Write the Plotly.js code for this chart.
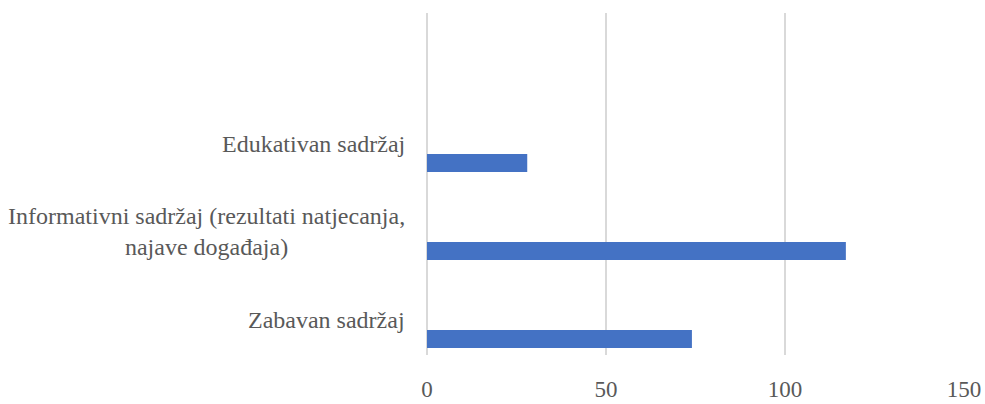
<!DOCTYPE html>
<html>
<head>
<meta charset="utf-8">
<script src="https://cdn.plot.ly/plotly-3.0.1.min.js"></script>
<style>html,body{margin:0;padding:0;background:#fff;}#chart{width:985px;height:404px;}</style>
</head>
<body>
<div id="chart"></div>
<script>
// Categories listed bottom to top
const categories = [
  "Zabavan sadržaj",
  "Informativni sadržaj (rezultati natjecanja,<br>najave događaja)",
  "Edukativan sadržaj"
];
const values = [74, 117, 28];
const xTicks = [0, 50, 100, 150];

const FONT = 'Times New Roman';

const trace = {
  type: 'bar',
  orientation: 'h',
  x: values,
  y: categories,
  marker: {color: '#4472C4'},
  width: 0.2045,
  offset: -0.284,
  hoverinfo: 'x+y'
};

const annotations = categories.map((c, i) => ({
  xref: 'paper', yref: 'y',
  x: 0, y: i,
  xanchor: 'right', yanchor: 'middle',
  xshift: -20,
  yshift: 3,
  align: 'center',
  showarrow: false,
  text: c,
  font: {family: FONT, size: 24, color: '#595959'}
}));

const layout = {
  width: 985, height: 404,
  margin: {l: 427, r: 21, t: 13, b: 49},
  paper_bgcolor: '#ffffff',
  plot_bgcolor: '#ffffff',
  showlegend: false,
  xaxis: {
    range: [0, 150],
    tickvals: xTicks,
    ticktext: xTicks.map(String),
    showgrid: true,
    gridcolor: '#d9d9d9',
    gridwidth: 1.5,
    zeroline: true,
    zerolinecolor: '#d9d9d9',
    zerolinewidth: 1.5,
    showline: false,
    ticks: '',
    ticklabelstandoff: 18,
    tickfont: {family: FONT, size: 23, color: '#595959'}
  },
  yaxis: {
    type: 'category',
    categoryorder: 'array',
    categoryarray: categories,
    range: [-0.364, 3.523],
    showticklabels: false,
    showgrid: false,
    zeroline: false,
    showline: false,
    ticks: ''
  },
  annotations: annotations
};

Plotly.newPlot('chart', [trace], layout, {displayModeBar: false, staticPlot: true});
</script>
</body>
</html>
